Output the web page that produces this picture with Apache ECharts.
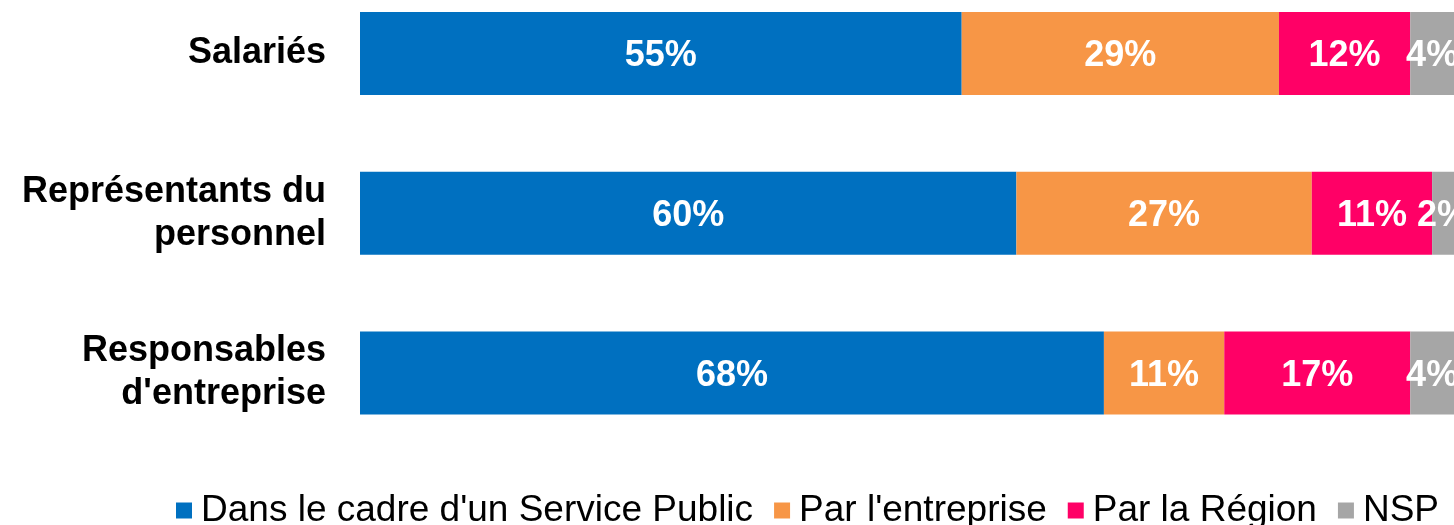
<!DOCTYPE html>
<html>
<head>
<meta charset="utf-8">
<script src="https://cdn.jsdelivr.net/npm/echarts@6/dist/echarts.min.js"></script>
<style>
  html, body { margin: 0; padding: 0; background: #fff; }
  #chart { width: 1454px; height: 525px; }
</style>
</head>
<body>
<div id="chart"></div>
<script>
const categories = ['Salariés', 'Représentants du\npersonnel', 'Responsables\nd\'entreprise']
const seriesNames = ['Dans le cadre d\'un Service Public', 'Par l\'entreprise', 'Par la Région', 'NSP']
const servicePublic = [55, 60, 68]
const entreprise = [29, 27, 11]
const region = [12, 11, 17]
const nsp = [4, 2, 4]
const colors = ['#0070C0', '#F79646', '#FF0066', '#A6A6A6']

const font = '"Liberation Sans", Arial, sans-serif'
const chart = echarts.init(document.getElementById('chart'))

function makeSeries(name, data, color) {
  return {
    name,
    type: 'bar',
    stack: 'total',
    data,
    barWidth: 83,
    itemStyle: { color },
    label: {
      show: true,
      position: 'inside',
      offset: [0, 3],
      formatter: (p) => p.value + '%',
      color: '#fff',
      fontFamily: font,
      fontWeight: 'bold',
      fontSize: 36
    }
  }
}

chart.setOption({
  animation: false,
  color: colors,
  // categories sit on the grid edges (boundaryGap false), bars centred on them
  grid: { left: 360, right: -4, top: 53.5, bottom: 152 },
  legend: {
    left: 171,
    top: 487,
    itemWidth: 16,
    itemHeight: 16,
    itemGap: 21,
    icon: 'rect',
    textStyle: { fontFamily: font, fontSize: 37, color: '#000', padding: [0, 0, 0, 4] },
    data: seriesNames
  },
  xAxis: { type: 'value', min: 0, max: 100, show: false },
  yAxis: {
    type: 'category',
    data: categories,
    inverse: true,
    boundaryGap: false,
    axisLine: { show: false },
    axisTick: { show: false },
    splitLine: { show: false },
    axisLabel: {
      margin: 34,
      color: '#000',
      fontFamily: font,
      fontWeight: 'bold',
      fontSize: 36,
      lineHeight: 43,
      padding: [5, 0, 0, 0],
      align: 'right'
    }
  },
  series: [
    makeSeries(seriesNames[0], servicePublic, colors[0]),
    makeSeries(seriesNames[1], entreprise, colors[1]),
    makeSeries(seriesNames[2], region, colors[2]),
    makeSeries(seriesNames[3], nsp, colors[3])
  ]
})
</script>
</body>
</html>
